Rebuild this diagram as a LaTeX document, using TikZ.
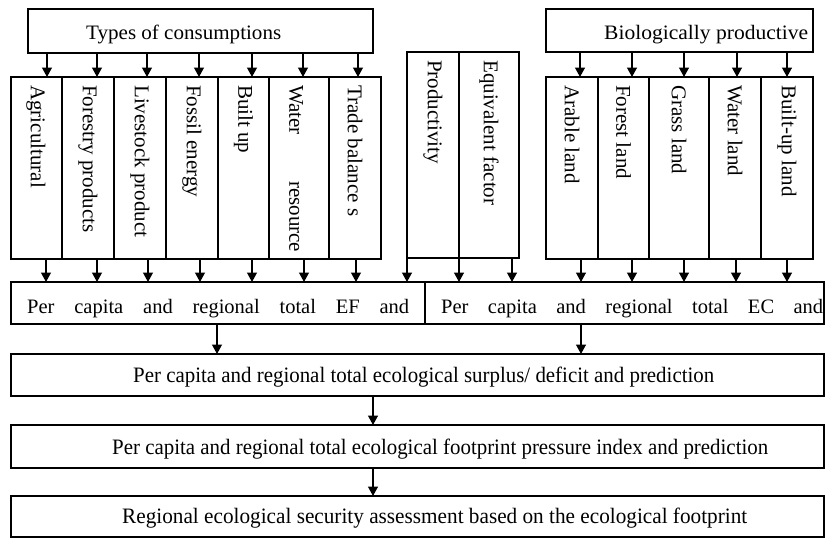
\documentclass[tikz,border=0pt]{standalone}
\usepackage{fontspec}
\setmainfont{Liberation Serif}
\usepackage{graphicx}
\usetikzlibrary{arrows.meta}
\tikzset{
  box/.style={draw, line width=1.3pt, inner sep=0pt, outer sep=0pt},
  arr/.style={line width=1.3pt, -{Triangle[length=9.5pt,width=10pt]}},
  vtext/.style={rotate=-90, anchor=west, inner sep=0pt, font=\fontsize{21}{22}\selectfont},
  txt/.style={inner sep=0pt, anchor=base west, font=\fontsize{20.5}{22}\selectfont},
  ltxt/.style={inner sep=0pt, anchor=base west, font=\fontsize{22}{24}\selectfont},
}
\begin{document}
\begin{tikzpicture}[x=1pt,y=-1pt]
\useasboundingbox (0,0) rectangle (827,539);

% top boxes
\node[box, minimum width=345pt, minimum height=44pt] (tc) at (200.5,31) {};
\node[txt] (tct) at (86,39.5) {\resizebox{195pt}{\height}{Types of consumptions}};
\node[box, minimum width=267pt, minimum height=43pt] (bp) at (679.5,30.5) {};
\node[txt] (bpt) at (604,39.5) {\resizebox{204pt}{\height}{Biologically productive}};

% consumption columns
\node[box, minimum width=51pt, minimum height=182pt] (c1) at (36.5,168) {};
\node[box, minimum width=52pt, minimum height=182pt] (c2) at (88,168) {};
\node[box, minimum width=52pt, minimum height=182pt] (c3) at (140,168) {};
\node[box, minimum width=52pt, minimum height=182pt] (c4) at (192,168) {};
\node[box, minimum width=51pt, minimum height=182pt] (c5) at (243.5,168) {};
\node[box, minimum width=60pt, minimum height=182pt] (c6) at (299,168) {};
\node[box, minimum width=52pt, minimum height=182pt] (c7) at (355,168) {};
\node[vtext] (t1) at (36,85) {Agricultural};
\node[vtext] (t2) at (88,85) {Forestry products};
\node[vtext] (t3) at (140,85) {Livestock product};
\node[vtext] (t4) at (192,85) {Fossil energy};
\node[vtext] (t5) at (243.5,85) {Built up};
\node[vtext] (t6) at (296,85) {\hbox to 167pt{Water\hfill resource}};
\node[vtext] (t7) at (355,85) {Trade balance s};

% productivity / equivalent factor
\node[box, minimum width=52pt, minimum height=206pt] (pr) at (433,155) {};
\node[box, minimum width=60pt, minimum height=206pt] (eq) at (489,155) {};
\node[vtext] (prt) at (433,60) {Productivity};
\node[vtext] (eqt) at (489,60) {Equivalent factor};

% land columns
\node[box, minimum width=52pt, minimum height=182pt] (l1) at (572,168) {};
\node[box, minimum width=51pt, minimum height=182pt] (l2) at (623.5,168) {};
\node[box, minimum width=60pt, minimum height=182pt] (l3) at (679,168) {};
\node[box, minimum width=52pt, minimum height=182pt] (l4) at (735,168) {};
\node[box, minimum width=52pt, minimum height=182pt] (l5) at (787,168) {};
\node[vtext] (lt1) at (572,85) {Arable land};
\node[vtext] (lt2) at (623.5,85) {Forest land};
\node[vtext] (lt3) at (679,85) {Grass land};
\node[vtext] (lt4) at (735,85) {Water land};
\node[vtext] (lt5) at (787,85) {Built-up land};

% EF / EC boxes
\node[box, minimum width=414pt, minimum height=42pt] (ef) at (218,303) {};
\node[box, minimum width=399pt, minimum height=42pt] (ec) at (624.5,303) {};
\node[txt] (eft) at (27,313.5) {\hbox to 382pt{Per\hfill capita\hfill and\hfill regional\hfill total\hfill EF\hfill and}};
\node[txt] (ect) at (441,313.5) {\hbox to 382pt{Per\hfill capita\hfill and\hfill regional\hfill total\hfill EC\hfill and}};

% lower boxes
\node[box, minimum width=813pt, minimum height=42pt] (sd) at (417.5,375) {};
\node[ltxt] (sdt) at (133,382.5) {\resizebox{581pt}{\height}{Per capita and regional total ecological surplus/ deficit and prediction}};
\node[box, minimum width=813pt, minimum height=43pt] (pi) at (417.5,446.5) {};
\node[ltxt] (pit) at (112,454) {\resizebox{656pt}{\height}{Per capita and regional total ecological footprint pressure index and prediction}};
\node[box, minimum width=813pt, minimum height=41pt] (sa) at (417.5,516.5) {};
\node[ltxt] (sat) at (122,523.5) {\resizebox{625pt}{\height}{Regional ecological security assessment based on the ecological footprint}};

% arrows: types -> columns
\draw[arr] (tc.south -| 47,0) -- (c1.north -| 47,0);
\draw[arr] (tc.south -| 97,0) -- (c2.north -| 97,0);
\draw[arr] (tc.south -| 147,0) -- (c3.north -| 147,0);
\draw[arr] (tc.south -| 199,0) -- (c4.north -| 199,0);
\draw[arr] (tc.south -| 252,0) -- (c5.north -| 252,0);
\draw[arr] (tc.south -| 303,0) -- (c6.north -| 303,0);
\draw[arr] (tc.south -| 358,0) -- (c7.north -| 358,0);
% bio -> land
\draw[arr] (bp.south -| 580,0) -- (l1.north -| 580,0);
\draw[arr] (bp.south -| 632,0) -- (l2.north -| 632,0);
\draw[arr] (bp.south -| 684,0) -- (l3.north -| 684,0);
\draw[arr] (bp.south -| 737,0) -- (l4.north -| 737,0);
\draw[arr] (bp.south -| 787,0) -- (l5.north -| 787,0);
% columns -> EF
\draw[arr] (c1.south -| 46,0) -- (ef.north -| 46,0);
\draw[arr] (c2.south -| 97,0) -- (ef.north -| 97,0);
\draw[arr] (c3.south -| 148,0) -- (ef.north -| 148,0);
\draw[arr] (c4.south -| 200,0) -- (ef.north -| 200,0);
\draw[arr] (c5.south -| 252,0) -- (ef.north -| 252,0);
\draw[arr] (c6.south -| 304,0) -- (ef.north -| 304,0);
\draw[arr] (c7.south -| 356,0) -- (ef.north -| 356,0);
\draw[arr] (pr.south west) -- (ef.north -| pr.south west);
% productivity / equivalent -> EC
\draw[arr] (pr.south east) -- (ec.north -| pr.south east);
\draw[arr] (eq.south -| 512,0) -- (ec.north -| 512,0);
% land -> EC
\draw[arr] (l1.south -| 581,0) -- (ec.north -| 581,0);
\draw[arr] (l2.south -| 632,0) -- (ec.north -| 632,0);
\draw[arr] (l3.south -| 684,0) -- (ec.north -| 684,0);
\draw[arr] (l4.south -| 736,0) -- (ec.north -| 736,0);
\draw[arr] (l5.south -| 787,0) -- (ec.north -| 787,0);
% lower chain
\draw[arr] (ef.south -| 217,0) -- (sd.north -| 217,0);
\draw[arr] (ec.south -| 581,0) -- (sd.north -| 581,0);
\draw[arr] (sd.south -| 373,0) -- (pi.north -| 373,0);
\draw[arr] (pi.south -| 373,0) -- (sa.north -| 373,0);
\end{tikzpicture}
\end{document}
